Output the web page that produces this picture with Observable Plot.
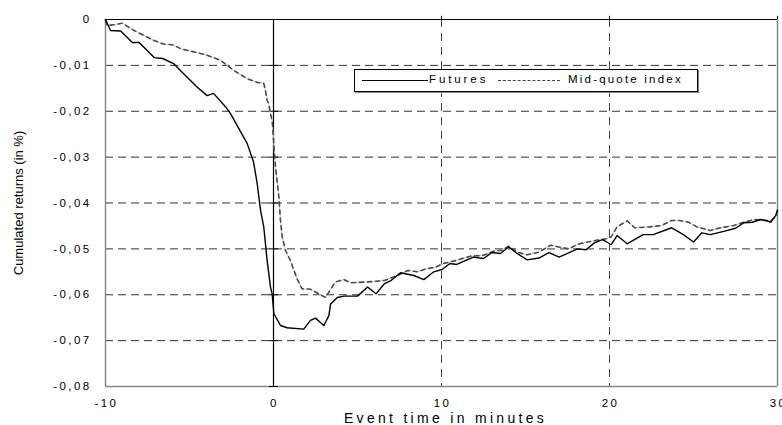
<!DOCTYPE html>
<html>
<head>
<meta charset="utf-8">
<script src="https://cdn.jsdelivr.net/npm/d3@7"></script>
<script src="https://cdn.jsdelivr.net/npm/@observablehq/plot@0.6"></script>
<style>
  html, body { margin: 0; padding: 0; background: #fff; }
  #wrap { position: relative; width: 782px; height: 425px; overflow: hidden; font-family: "Liberation Sans", Arial, sans-serif; }
  #chart svg text { letter-spacing: 2.4px; }
  #legend { position: absolute; left: 354px; top: 69px; width: 342px; height: 21px; border: 1px solid #000; background: #fff; box-shadow: 1px 1px 0 #888; font-size: 11.5px; letter-spacing: 2.2px; color: #000; }
  #legend .s { position: absolute; top: 10px; height: 0; }
  #legend .t { position: absolute; top: 3px; white-space: nowrap; }
</style>
</head>
<body>
<div id="wrap">
  <div id="chart"></div>
  <div id="legend">
    <div class="s" style="left:7px;width:66px;border-top:1.3px solid #000;"></div>
    <div class="t" style="left:74px;letter-spacing:2.9px;">Futures</div>
    <div class="s" style="left:143px;width:62px;border-top:1.2px dashed #444;"></div>
    <div class="t" style="left:213px;">Mid-quote index</div>
  </div>
</div>
<script>
// Event time (minutes) and cumulated returns (in %)
const futuresX = [-10,-9.85,-9.7,-9.1,-8.4,-8.0,-7.1,-6.6,-5.95,-5.35,-4.55,-3.95,-3.57,-2.86,-2.56,-1.57,-1.19,-0.97,-0.77,-0.58,-0.38,-0.18,-0.08,0.02,0.42,0.81,1.8,2.2,2.5,3.0,3.3,3.4,3.8,4.2,5.0,5.6,6.1,6.6,7.0,7.56,8.35,8.95,9.54,10.04,10.5,10.9,11.9,12.5,13.0,13.5,14.0,14.5,15.1,15.8,16.4,17.0,17.6,18.1,18.6,19.1,19.6,20.1,20.45,21.05,22.0,22.6,23.7,24.4,25.0,25.5,26.0,26.8,27.5,28.0,28.5,29.0,29.3,29.6,29.9,30.0];
const futuresY = [0,-0.0012,-0.0024,-0.0025,-0.005,-0.005,-0.0083,-0.0085,-0.0096,-0.0118,-0.0147,-0.0166,-0.0161,-0.019,-0.0205,-0.027,-0.031,-0.0358,-0.0416,-0.0452,-0.0525,-0.0583,-0.0598,-0.0641,-0.0667,-0.0672,-0.0675,-0.0656,-0.0651,-0.0667,-0.0645,-0.062,-0.0606,-0.0603,-0.0603,-0.0583,-0.0598,-0.0576,-0.0569,-0.0552,-0.0558,-0.0567,-0.055,-0.0545,-0.0532,-0.0534,-0.0518,-0.0521,-0.0508,-0.051,-0.0496,-0.051,-0.0524,-0.052,-0.0508,-0.0518,-0.0508,-0.05,-0.0502,-0.0487,-0.048,-0.0491,-0.0471,-0.0489,-0.0469,-0.0469,-0.0454,-0.0469,-0.0485,-0.0465,-0.0469,-0.0462,-0.0455,-0.0443,-0.0442,-0.0436,-0.0438,-0.0442,-0.0427,-0.0415];
const midX = [-10,-9.9,-9.4,-9.0,-8.3,-7.7,-7.1,-6.5,-6.0,-5.5,-4.7,-3.95,-3.15,-2.36,-1.57,-0.97,-0.58,-0.48,-0.38,-0.28,-0.18,-0.08,0.02,0.12,0.32,0.42,0.52,0.71,1.0,1.4,1.7,2.2,2.7,3.1,3.4,3.7,4.2,4.6,5.6,6.6,7.4,8.0,8.55,9.15,9.64,10.1,10.9,11.7,12.5,13.1,13.6,14.0,14.5,15.1,15.8,16.5,17.0,17.6,18.1,18.7,19.3,19.8,20.1,20.45,21.05,21.5,22.4,23.1,23.7,24.2,24.7,25.2,26.0,26.6,27.4,28.0,28.6,29.2,29.6,29.9,30.0];
const midY = [-0.0003,-0.0013,-0.0011,-0.0008,-0.0024,-0.0035,-0.0046,-0.0054,-0.0055,-0.0064,-0.0071,-0.0078,-0.0089,-0.0111,-0.0129,-0.0137,-0.0139,-0.0155,-0.0176,-0.0184,-0.0205,-0.022,-0.0271,-0.0322,-0.0387,-0.044,-0.0474,-0.0503,-0.0525,-0.0565,-0.0587,-0.0588,-0.0598,-0.0606,-0.0588,-0.0572,-0.0567,-0.0574,-0.0572,-0.0569,-0.0558,-0.0547,-0.055,-0.0543,-0.054,-0.0532,-0.0525,-0.0516,-0.0514,-0.0505,-0.0503,-0.0494,-0.0507,-0.0513,-0.0507,-0.0492,-0.0496,-0.05,-0.049,-0.0485,-0.0481,-0.0478,-0.0474,-0.0452,-0.0439,-0.0454,-0.0452,-0.0449,-0.0438,-0.0438,-0.0442,-0.0452,-0.046,-0.0454,-0.0449,-0.0442,-0.0436,-0.0438,-0.0439,-0.0429,-0.0416];
const xTicks = [-10, 0, 10, 20, 30];
const yTicks = [0, -0.01, -0.02, -0.03, -0.04, -0.05, -0.06, -0.07, -0.08];
const xTitle = "Event time in minutes";
const yTitle = "Cumulated returns (in %)";

const futures = futuresX.map((x, i) => ({x, y: futuresY[i]}));
const mid = midX.map((x, i) => ({x, y: midY[i]}));
const yFmt = d => d === 0 ? "0" : d.toFixed(2).replace(".", ",");

const chart = Plot.plot({
  width: 782, height: 425,
  marginLeft: 105, marginRight: 5, marginTop: 19, marginBottom: 39,
  style: {fontFamily: "'Liberation Sans', Arial, sans-serif", fontSize: "11.5px", background: "#fff", color: "#000"},
  x: {domain: [-10, 30]},
  y: {domain: [-0.08, 0]},
  marks: [
    Plot.ruleY(yTicks.filter(d => d < 0 && d > -0.08), {stroke: "#333", strokeWidth: 1, strokeDasharray: "8,5"}),
    Plot.ruleX(xTicks.filter(d => d > 0 && d < 30), {stroke: "#444", strokeWidth: 1, strokeDasharray: "8,6"}),
    Plot.ruleX([-10, 30], {stroke: "#888", strokeWidth: 1.5}),
    Plot.ruleY([-0.08], {stroke: "#888", strokeWidth: 1.5}),
    Plot.ruleY([0], {stroke: "#000", strokeWidth: 1.2}),
    Plot.ruleX([0], {stroke: "#000", strokeWidth: 1.2}),
    Plot.ruleY(yTicks.filter(d => d < 0), {x1: -0.25, x2: 0.3, stroke: "#000", strokeWidth: 1}),
    Plot.ruleX(xTicks.filter(d => d > 0), {y1: 0, y2: 0.0007, stroke: "#000", strokeWidth: 1}),
    Plot.line(mid, {x: "x", y: "y", stroke: "#c8c8c8", strokeWidth: 1}),
    Plot.line(mid, {x: "x", y: "y", stroke: "#4a4a4a", strokeWidth: 1.6, strokeDasharray: "4,4"}),
    Plot.line(futures, {x: "x", y: "y", stroke: "#000", strokeWidth: 1.4}),
    Plot.axisX(xTicks, {tickSize: 0, tickPadding: 12, label: null, fontSize: 11.5, tickFormat: d => String(d), dx: 1}),
    Plot.axisY(yTicks, {tickSize: 0, tickPadding: 14, label: null, fontSize: 11.5, tickFormat: yFmt}),
    Plot.text([xTitle], {frameAnchor: "bottom", lineAnchor: "middle", dy: 32, dx: 4, fontSize: 14, text: d => d}),
    Plot.text([yTitle], {frameAnchor: "left", textAnchor: "middle", lineAnchor: "middle", dx: -87, rotate: -90, fontSize: 13, text: d => d})
  ]
});
chart.querySelectorAll("text").forEach(t => {
  if (t.textContent === yTitle) t.style.letterSpacing = "0px";
  if (t.textContent === xTitle) t.style.letterSpacing = "3.3px";
});
document.getElementById("chart").appendChild(chart);
</script>
</body>
</html>
